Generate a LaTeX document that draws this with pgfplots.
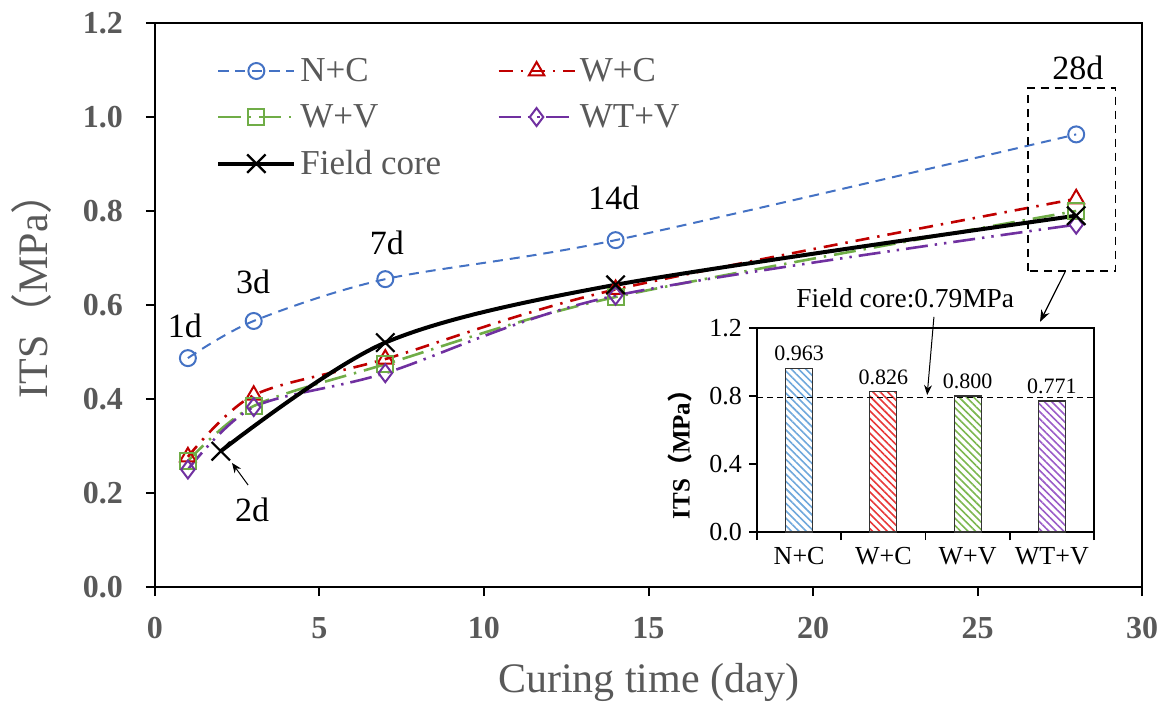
\documentclass[border=0pt]{standalone}
\usepackage{fontspec}
\setmainfont{Liberation Serif}
\newfontfamily\cjk{Noto Sans CJK SC}
\usepackage{pgfplots}
\pgfplotsset{compat=1.18}
\usetikzlibrary{patterns,patterns.meta,arrows.meta}

\definecolor{cNC}{HTML}{4472C4}
\definecolor{cWC}{HTML}{C00000}
\definecolor{cWV}{HTML}{70AD47}
\definecolor{cWTV}{HTML}{7030A0}
\definecolor{bNC}{HTML}{6FA8DC}
\definecolor{bWC}{HTML}{E83838}
\definecolor{bWV}{HTML}{7CB74F}
\definecolor{bWTV}{HTML}{9A5CC8}
\definecolor{tgray}{HTML}{595959}

\newcommand{\fs}[1]{\fontsize{#1}{#1}\selectfont}

\begin{document}
\begin{tikzpicture}
\path[use as bounding box] (-77.5pt,-58pt) rectangle (506pt,293.5pt);

\begin{axis}[
  at={(0pt,0pt)}, anchor=south west,
  scale only axis, width=493.5pt, height=282pt,
  xmin=0, xmax=30, ymin=0, ymax=1.2,
  xtick={0,5,10,15,20,25,30},
  ytick={0,0.2,0.4,0.6,0.8,1.0,1.2},
  tick align=outside, tick pos=left,
  major tick length=4.5pt,
  axis line style={line width=1.2pt},
  every tick/.style={black, line width=1pt},
  /pgf/number format/assume math mode=true,
  ticklabel style={font=\bfseries\fs{16}, color=tgray},
  yticklabel style={xshift=-8pt, /pgf/number format/.cd, fixed, fixed zerofill, precision=1},
  xticklabel style={yshift=-7pt},
  xlabel={Curing time (day)},
  ylabel={ITS{\cjk （}MPa{\cjk ）}},
  label style={font=\fs{21}, color=tgray},
  xlabel style={at={(axis description cs:0.5,-0.17)}, anchor=center},
  ylabel style={at={(axis description cs:-0.125,0.535)}, anchor=center},
  legend columns=2,
  legend cell align=left,
  legend style={at={(rel axis cs:0.0557,0.953)}, anchor=north west, draw=none, fill=none,
    font=\fs{17.5}, text=tgray, row sep=6pt,
    /tikz/every even column/.append style={column sep=26pt}},
  legend image code/.code={\draw[mark repeat=2,mark phase=2,#1] plot coordinates {(0pt,0pt) (19pt,0pt) (38pt,0pt)};},
  clip=false,
]
\addplot[cNC, line width=1pt, dash pattern=on 5pt off 3.5pt, smooth, mark=o, mark size=4pt, mark options={solid, line width=1pt}]
  coordinates {(1,0.487) (3,0.566) (7,0.655) (14,0.738) (28,0.963)};
\addlegendentry{N+C}
\addplot[cWC, line width=1.3pt, dash pattern=on 7pt off 4pt on 1.2pt off 4pt, smooth, mark=triangle, mark size=4.5pt, mark options={solid, line width=1pt}]
  coordinates {(1,0.277) (3,0.408) (7,0.485) (14,0.633) (28,0.826)};
\addlegendentry{W+C}
\addplot[cWV, line width=1.3pt, dash pattern=on 11pt off 4pt on 1.2pt off 4pt, smooth, mark=square, mark size=4pt, mark options={solid, line width=1pt}]
  coordinates {(1,0.268) (3,0.385) (7,0.474) (14,0.617) (28,0.800)};
\addlegendentry{W+V}
\addplot[cWTV, line width=1.3pt, dash pattern=on 11pt off 3.5pt on 1.2pt off 3.5pt on 1.2pt off 3.5pt, smooth, mark=diamond, mark size=4.5pt, mark options={solid, line width=1pt}]
  coordinates {(1,0.250) (3,0.383) (7,0.455) (14,0.620) (28,0.771)};
\addlegendentry{WT+V}
\addplot[black, line width=2pt, smooth, mark=x, mark size=6.5pt, mark options={line width=1.1pt}]
  coordinates {(2,0.289) (7,0.520) (14,0.643) (28,0.790)};
\addlegendentry{Field core}

\node[font=\fs{17}] at (axis cs:0.91,0.555) {1d};
\node[font=\fs{17}] at (axis cs:2.98,0.649) {3d};
\node[font=\fs{17}] at (axis cs:7.05,0.732) {7d};
\node[font=\fs{17}] at (axis cs:13.95,0.828) {14d};
\node[font=\fs{17}] at (axis cs:28.05,1.104) {28d};
\node[font=\fs{17}] at (axis cs:2.95,0.164) {2d};
\draw[-{Stealth[length=5pt,width=4pt]}, line width=0.5pt] (axis cs:2.83,0.217) -- (axis cs:2.34,0.264);
\draw[line width=0.8pt, dash pattern=on 4pt off 3pt] (axis cs:26.53,0.672) rectangle (axis cs:29.2,1.062);
\draw[-{Stealth[length=6pt,width=4.5pt]}, line width=0.6pt] (axis cs:27.66,0.670) -- (axis cs:26.9,0.564);
\end{axis}

\begin{axis}[
  at={(301pt,27.5pt)}, anchor=south west,
  scale only axis, width=168.5pt, height=102pt,
  xmin=-0.5, xmax=3.5, ymin=0, ymax=1.2,
  ytick={0,0.4,0.8,1.2},
  xtick={-0.5,0.5,1.5,2.5,3.5},
  x tick label as interval,
  xticklabels={N+C,W+C,W+V,WT+V},
  tick align=outside, tick pos=left,
  major tick length=4pt,
  axis line style={line width=0.8pt},
  every tick/.style={black, line width=0.8pt},
  /pgf/number format/assume math mode=true,
  ticklabel style={font=\fs{13}},
  yticklabel style={/pgf/number format/.cd, fixed, fixed zerofill, precision=1},
  ylabel={\bfseries ITS{\cjk （}MPa{\cjk ）}},
  ylabel style={font=\fs{12.5}, at={(axis description cs:-0.228,0.41)}, anchor=center},
  ybar, bar width=13.5pt, bar shift=0pt,
  nodes near coords,
  nodes near coords style={font=\fs{11}, black, /pgf/number format/.cd, fixed, fixed zerofill, precision=3},
  clip=false,
]
\addplot[draw=black!80, line width=0.6pt, pattern={Lines[angle=-45,distance=2.6pt,line width=0.8pt]}, pattern color=bNC] coordinates {(0,0.963)};
\addplot[draw=black!80, line width=0.6pt, pattern={Lines[angle=-45,distance=2.6pt,line width=0.8pt]}, pattern color=bWC] coordinates {(1,0.826)};
\addplot[draw=black!80, line width=0.6pt, pattern={Lines[angle=-45,distance=2.6pt,line width=0.8pt]}, pattern color=bWV] coordinates {(2,0.800)};
\addplot[draw=black!80, line width=0.6pt, pattern={Lines[angle=-45,distance=2.6pt,line width=0.8pt]}, pattern color=bWTV] coordinates {(3,0.771)};
\draw[line width=0.6pt, dash pattern=on 3pt off 2pt] (axis cs:-0.5,0.79) -- (axis cs:3.5,0.79);
\node[font=\fs{13.7}] at (axis cs:1.26,1.376) {Field core:0.79MPa};
\draw[-{Stealth[length=5pt,width=4pt]}, line width=0.5pt] (axis cs:1.6,1.265) -- (axis cs:1.52,0.806);
\end{axis}
\end{tikzpicture}
\end{document}
